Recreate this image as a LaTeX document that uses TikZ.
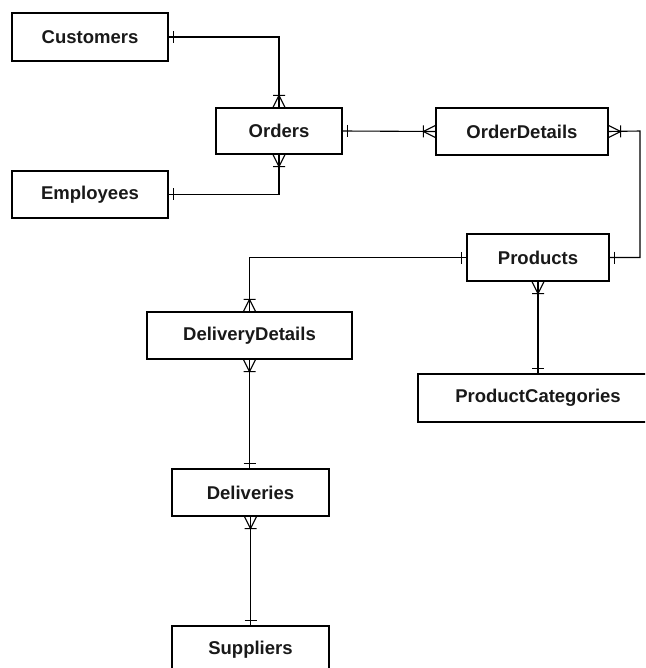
\documentclass[tikz,border=0pt]{standalone}
\usepackage{fontspec}
\setmainfont{Liberation Sans}
\begin{document}
\begin{tikzpicture}[x=1pt,y=-1pt,
  entity/.style={draw, line width=1.3pt, fill=white, inner sep=0pt,
    font=\fontsize{18.5}{22}\selectfont\bfseries, text=black!90},
  rel/.style={line width=1.1pt},
  many/.pic={\draw[line width=1.1pt] (12,0) -- (0,-6) (12,0) -- (0,6) (12,-6) -- (12,6);},
  one/.pic={\draw[line width=1.1pt] (5,-6) -- (5,6);}
]
\clip (0,0) rectangle (645,668);
\fill[white] (0,0) rectangle (645,668);

\node[entity, minimum width=156pt, minimum height=48pt] (cust) at (90,37) {Customers};
\node[entity, minimum width=126pt, minimum height=46pt] (ord) at (279,131) {Orders};
\node[entity, minimum width=156pt, minimum height=47pt] (emp) at (90,194.5) {Employees};
\node[entity, minimum width=172pt, minimum height=47pt] (od) at (522,131.5) {OrderDetails};
\node[entity, minimum width=142pt, minimum height=47pt] (prod) at (538,257.5) {Products};
\node[entity, minimum width=205pt, minimum height=47pt] (dd) at (249.5,335.5) {DeliveryDetails};
\node[entity, minimum width=240pt, minimum height=48pt] (pc) at (538,398) {ProductCategories};
\node[entity, minimum width=157pt, minimum height=47pt] (del) at (250.5,492.5) {Deliveries};
\node[entity, minimum width=157pt, minimum height=48pt] (sup) at (250.5,650) {Suppliers};

\coordinate (odr) at (640,131);

% Customers - Orders
\draw[rel] (cust.east) -| (ord.north);
\path (cust.east) pic {one};
\path (ord.north) pic[rotate=90] {many};
% Employees - Orders
\draw[rel] (emp.east) -| (ord.south);
\path (emp.east) pic {one};
\path (ord.south) pic[rotate=-90] {many};
% Orders - OrderDetails
\draw[rel] (ord.east) -- (od.west);
\path (ord.east) pic {one};
\path (od.west) pic[rotate=180] {many};
% OrderDetails - Products
\draw[rel] (od.east) -- (odr) |- (prod.east);
\path (od.east) pic {many};
\path (prod.east) pic {one};
% Products - DeliveryDetails
\draw[rel] (prod.west) -| (dd.north);
\path (prod.west) pic[rotate=180] {one};
\path (dd.north) pic[rotate=90] {many};
% Products - ProductCategories
\draw[rel] (prod.south) -- (pc.north);
\path (prod.south) pic[rotate=-90] {many};
\path (pc.north) pic[rotate=90] {one};
% DeliveryDetails - Deliveries
\draw[rel] (dd.south) -- (dd.south |- del.north);
\path (dd.south) pic[rotate=-90] {many};
\path (dd.south |- del.north) pic[rotate=90] {one};
% Deliveries - Suppliers
\draw[rel] (del.south) -- (sup.north);
\path (del.south) pic[rotate=-90] {many};
\path (sup.north) pic[rotate=90] {one};
\end{tikzpicture}
\end{document}
